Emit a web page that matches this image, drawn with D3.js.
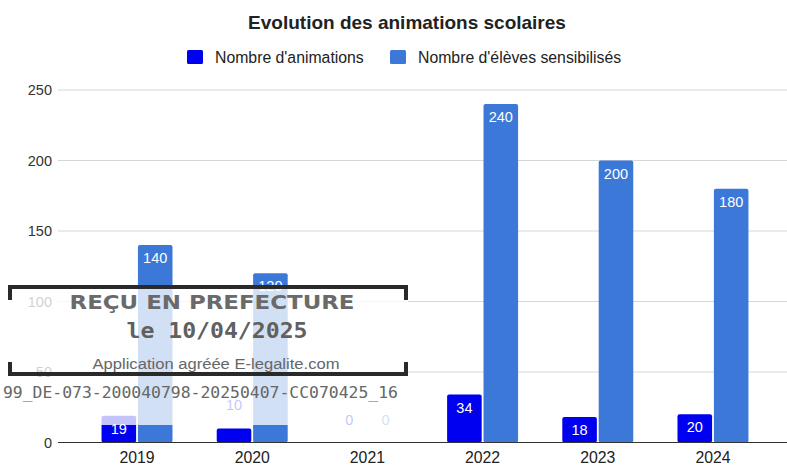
<!DOCTYPE html>
<html lang="fr">
<head>
<meta charset="utf-8">
<script src="https://cdn.jsdelivr.net/npm/d3@7"></script>
<style>
  html, body { margin: 0; padding: 0; background: #fff; }
  svg { display: block; font-family: "Liberation Sans", Arial, sans-serif; }
</style>
</head>
<body>
<svg id="chart" width="787" height="466"></svg>
<script>
// Données
const years = ["2019", "2020", "2021", "2022", "2023", "2024"];
const animations = [19, 10, 0, 34, 18, 20];
const eleves = [140, 120, 0, 240, 200, 180];
const seriesNames = ["Nombre d'animations", "Nombre d'élèves sensibilisés"];
const seriesColors = ["#0000f0", "#3c78d8"];
const yTicks = [0, 50, 100, 150, 200, 250];

const stampLines = ["REÇU EN PREFECTURE", "le 10/04/2025", "Application agréée E-legalite.com"];
const stampRef = "99_DE-073-200040798-20250407-CC070425_16";

const W = 787, H = 466;
const svg = d3.select("#chart");

const x = d3.scaleBand().domain(years).range([58, 792]).paddingInner(0.384).paddingOuter(0.378);
const xs = d3.scaleBand().domain([0, 1]).range([0, x.bandwidth()]).paddingInner(0.05);
const y = d3.scaleLinear().domain([0, 250]).range([442.5, 90]);

// Titre
svg.append("text")
  .attr("x", 407).attr("y", 29)
  .attr("text-anchor", "middle")
  .attr("font-weight", "bold").attr("font-size", 19)
  .attr("fill", "#222")
  .text("Evolution des animations scolaires");

// Légende
const legendX = [187, 390];
seriesNames.forEach((name, i) => {
  const g = svg.append("g").attr("transform", `translate(${legendX[i]},50)`);
  g.append("rect").attr("width", 16).attr("height", 14).attr("rx", 1.5).attr("fill", seriesColors[i]);
  g.append("text").attr("x", 28).attr("y", 12.5).attr("font-size", 15.8).attr("fill", "#222").text(name);
});

// Grille et axe vertical
const yAxis = d3.axisLeft(y).tickValues(yTicks).tickSize(0).tickPadding(6);
const yg = svg.append("g").attr("transform", "translate(58,0)").call(yAxis);
yg.select(".domain").remove();
yg.selectAll("text").attr("font-size", 14.5).attr("fill", "#333").attr("font-family", "Liberation Sans, Arial, sans-serif");
svg.append("g").selectAll("line")
  .data(yTicks.filter(d => d > 0))
  .join("line")
  .attr("x1", 58).attr("x2", W)
  .attr("y1", d => y(d)).attr("y2", d => y(d))
  .attr("stroke", "#d6d6d6").attr("stroke-width", 1);

// Barres
const rows = years.map((yr, i) => ({ year: yr, values: [animations[i], eleves[i]] }));
const groups = svg.append("g").selectAll("g")
  .data(rows).join("g")
  .attr("transform", d => `translate(${x(d.year)},0)`);

groups.selectAll("rect")
  .data(d => d.values.map((v, k) => ({ v, k })))
  .join("rect")
  .attr("x", d => xs(d.k))
  .attr("width", xs.bandwidth())
  .attr("y", d => y(d.v))
  .attr("height", d => y(0) - y(d.v))
  .attr("rx", 2)
  .attr("fill", d => seriesColors[d.k]);

// Étiquettes de valeur : dans la barre si elle est assez haute, sinon au-dessus
groups.selectAll("text.val")
  .data(d => d.values.map((v, k) => ({ v, k })))
  .join("text")
  .attr("class", "val")
  .attr("x", d => xs(d.k) + xs.bandwidth() / 2)
  .attr("y", d => (y(0) - y(d.v) > 22) ? y(d.v) + 18 : y(d.v) - 18)
  .attr("text-anchor", "middle")
  .attr("font-size", 14.5)
  .attr("fill", d => (y(0) - y(d.v) > 22) ? "#fff" : seriesColors[d.k])
  .text(d => d.v);

// Ligne de base
svg.append("line")
  .attr("x1", 58).attr("x2", W)
  .attr("y1", y(0)).attr("y2", y(0))
  .attr("stroke", "#333").attr("stroke-width", 1.2);

// Axe horizontal
const xAxis = d3.axisBottom(x).tickSize(0).tickPadding(9);
const xg = svg.append("g").attr("transform", `translate(0,${y(0)})`).call(xAxis);
xg.select(".domain").remove();
xg.selectAll("text").attr("font-size", 15.8).attr("fill", "#222").attr("font-family", "Liberation Sans, Arial, sans-serif");

// Tampon de réception
const stamp = svg.append("g");
stamp.append("rect")
  .attr("x", 0).attr("y", 285).attr("width", 408).attr("height", 140)
  .attr("fill", "#fff").attr("opacity", 0.77);
const bracket = "M10,300 V287 H406 V300 M10,362 V374 H406 V362";
stamp.append("path").attr("d", bracket)
  .attr("fill", "none").attr("stroke", "#2a2a2a").attr("stroke-width", 4);
stamp.append("text")
  .attr("x", 212).attr("y", 309).attr("text-anchor", "middle")
  .attr("font-family", "DejaVu Sans, sans-serif").attr("font-weight", "bold")
  .attr("font-size", 19).attr("fill", "#6a6a6a")
  .attr("textLength", 285).attr("lengthAdjust", "spacingAndGlyphs")
  .text(stampLines[0]);
stamp.append("text")
  .attr("x", 217).attr("y", 338).attr("text-anchor", "middle")
  .attr("font-family", "DejaVu Sans Mono, monospace").attr("font-weight", "bold")
  .attr("font-size", 21).attr("fill", "#606060")
  .attr("textLength", 181).attr("lengthAdjust", "spacingAndGlyphs")
  .text(stampLines[1]);
stamp.append("text")
  .attr("x", 216).attr("y", 369).attr("text-anchor", "middle")
  .attr("font-family", "Liberation Sans, Arial, sans-serif")
  .attr("font-size", 14).attr("fill", "#666")
  .attr("textLength", 247).attr("lengthAdjust", "spacingAndGlyphs")
  .text(stampLines[2]);
stamp.append("text")
  .attr("x", 3).attr("y", 398)
  .attr("font-family", "DejaVu Sans Mono, monospace")
  .attr("font-size", 15).attr("fill", "#666")
  .attr("textLength", 395).attr("lengthAdjust", "spacingAndGlyphs")
  .text(stampRef);
</script>
</body>
</html>
